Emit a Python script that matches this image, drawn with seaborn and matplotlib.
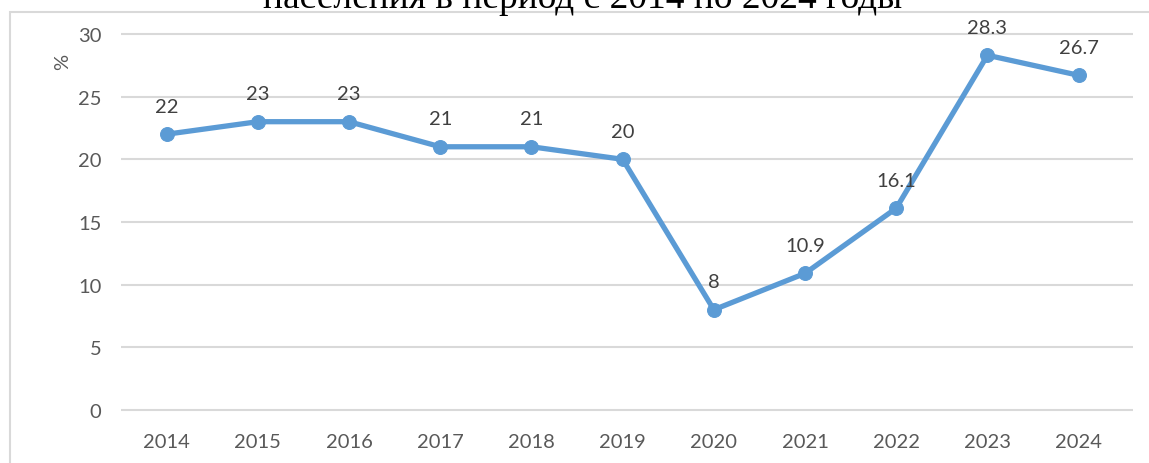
import matplotlib
matplotlib.use('Agg')
import matplotlib.pyplot as plt
import matplotlib.patches as mpatches
import pandas as pd
import seaborn as sns

# Data
years = ['2014', '2015', '2016', '2017', '2018', '2019', '2020', '2021', '2022', '2023', '2024']
values = [22, 23, 23, 21, 21, 20, 8, 10.9, 16.1, 28.3, 26.7]
value_labels = ['22', '23', '23', '21', '21', '20', '8', '10.9', '16.1', '28.3', '26.7']
yticks = [0, 5, 10, 15, 20, 25, 30]
title = 'населения в период с 2014 по 2024 годы'

df = pd.DataFrame({'year': years, 'value': values})

sns.set_style('white')
plt.rcParams['font.family'] = ['Lato', 'DejaVu Sans']

fig = plt.figure(figsize=(11.49, 4.64), dpi=100)
axis = fig.add_axes([0.1053, 0.1007, 0.8808, 0.8375])

blue = '#5B9BD5'
sns.lineplot(data=df, x='year', y='value', color=blue, linewidth=3.8,
             marker='o', markersize=10, markeredgecolor=blue, ax=axis, zorder=3)

for i, (v, lab) in enumerate(zip(values, value_labels)):
    axis.annotate(lab, (i, v), xytext=(0, 14), textcoords='offset points',
                  ha='center', va='bottom', fontsize=14.5, color='#404040')

axis.set_xlim(-0.5, 10.596)
axis.set_ylim(-0.5, 30.5)
axis.set_yticks(yticks)
axis.set_xlabel('')
axis.set_ylabel('')
axis.grid(axis='y', color='#D9D9D9', linewidth=1.5)
axis.grid(axis='x', visible=False)
for s in axis.spines.values():
    s.set_visible(False)
axis.tick_params(axis='both', length=0, labelsize=14.5, labelcolor='#595959')
axis.tick_params(axis='y', pad=14)
axis.tick_params(axis='x', pad=12)

fig.text(63 / 1149, 1 - 62 / 464, '%', rotation=90, ha='center', va='center',
         fontsize=14.5, color='#595959')

# Cut-off title at the top
fig.text(583 / 1149, 1 - 8 / 464, title, ha='center', va='baseline',
         fontsize=27, color='black', family='Liberation Serif')

# Chart area border (extends past right and bottom edges)
frame = mpatches.Rectangle((10 / 1149, -0.1), 1.2, 1 - 13 / 464 + 0.1,
                           transform=fig.transFigure, fill=False,
                           edgecolor='#D9D9D9', linewidth=1.5, clip_on=False)
fig.add_artist(frame)

fig.savefig('out.png', dpi=100)
